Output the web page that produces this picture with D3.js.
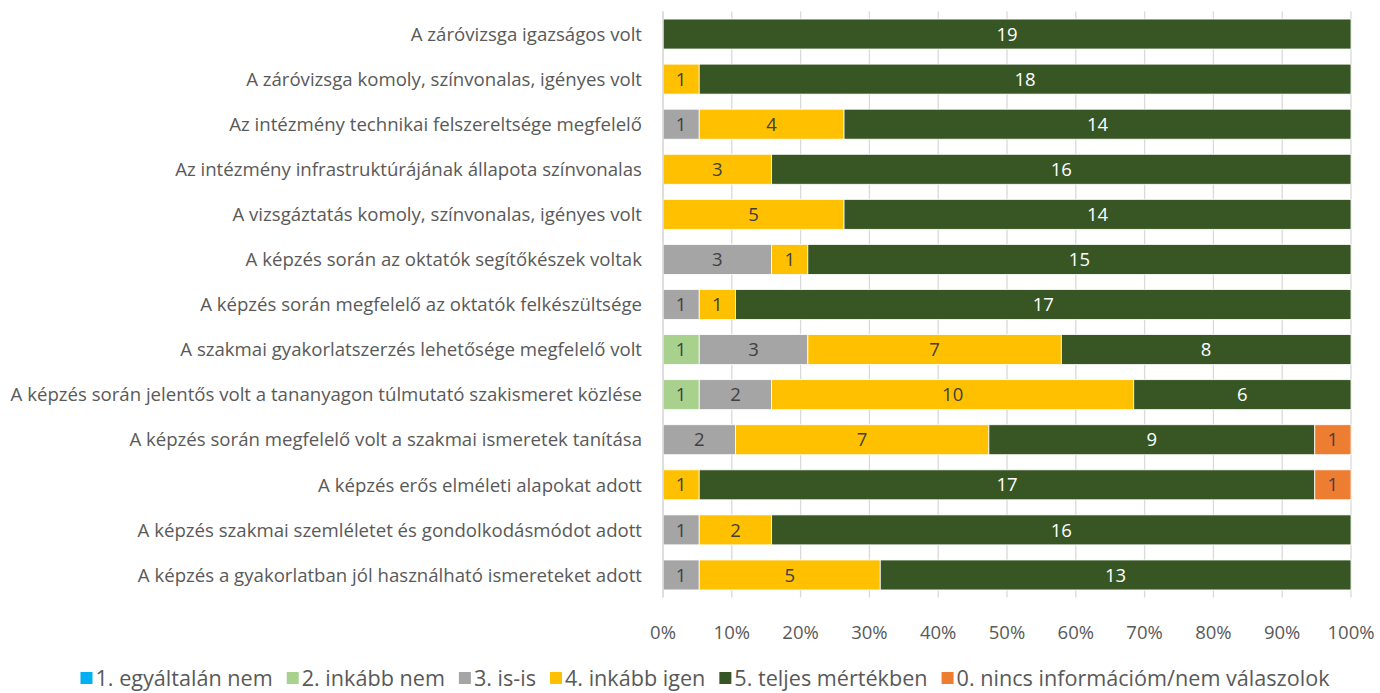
<!DOCTYPE html>
<html>
<head>
<meta charset="utf-8">
<script src="https://cdn.jsdelivr.net/npm/d3@7"></script>
<style>
  body { margin: 0; background: #fff; }
  svg text { font-family: "Open Sans", "Noto Sans", sans-serif; }
</style>
</head>
<body>
<svg id="chart" width="1380" height="693"></svg>
<script>
// categories, top to bottom
const categories = [
  "A záróvizsga igazságos volt",
  "A záróvizsga komoly, színvonalas, igényes volt",
  "Az intézmény technikai felszereltsége megfelelő",
  "Az intézmény infrastruktúrájának állapota színvonalas",
  "A vizsgáztatás komoly, színvonalas, igényes volt",
  "A képzés során az oktatók segítőkészek voltak",
  "A képzés során megfelelő az oktatók felkészültsége",
  "A szakmai gyakorlatszerzés lehetősége megfelelő volt",
  "A képzés során jelentős volt a tananyagon túlmutató szakismeret közlése",
  "A képzés során megfelelő volt a szakmai ismeretek tanítása",
  "A képzés erős elméleti alapokat adott",
  "A képzés szakmai szemléletet és gondolkodásmódot adott",
  "A képzés a gyakorlatban jól használható ismereteket adott"
];

const seriesNames = [
  "1. egyáltalán nem",
  "2. inkább nem",
  "3. is-is",
  "4. inkább igen",
  "5. teljes mértékben",
  "0. nincs információm/nem válaszolok"
];
const seriesColors = ["#00B0F0", "#A9D18E", "#A5A5A5", "#FFC000", "#375623", "#ED7D31"];

// counts per series, same order as categories
const s1 = [0, 0, 0, 0, 0, 0, 0, 0, 0, 0, 0, 0, 0];
const s2 = [0, 0, 0, 0, 0, 0, 0, 1, 1, 0, 0, 0, 0];
const s3 = [0, 0, 1, 0, 0, 3, 1, 3, 2, 2, 0, 1, 1];
const s4 = [0, 1, 4, 3, 5, 1, 1, 7, 10, 7, 1, 2, 5];
const s5 = [19, 18, 14, 16, 14, 15, 17, 8, 6, 9, 17, 16, 13];
const s0 = [0, 0, 0, 0, 0, 0, 0, 0, 0, 1, 1, 0, 0];
const seriesValues = [s1, s2, s3, s4, s5, s0];

const tickValues = [0, 0.1, 0.2, 0.3, 0.4, 0.5, 0.6, 0.7, 0.8, 0.9, 1];

const svg = d3.select('#chart');
const plotLeft = 663, plotRight = 1351, plotTop = 11.5, plotBottom = 597.5;
const textColor = '#595959';

const x = d3.scaleLinear().domain([0, 1]).range([plotLeft, plotRight]);
const y = d3.scaleBand().domain(categories).range([plotTop, plotBottom]).paddingInner(0.335).paddingOuter(0.1675);

// build rows with cumulative shares
const rows = categories.map((c, i) => {
  const total = d3.sum(seriesValues, s => s[i]);
  let acc = 0;
  const segs = seriesValues.map((s, k) => {
    const seg = {cat: c, k: k, v: s[i], x0: acc / total, x1: (acc + s[i]) / total};
    acc += s[i];
    return seg;
  }).filter(d => d.v > 0);
  return {cat: c, segs: segs};
});

// gridlines
svg.append('g').selectAll('line').data(tickValues).join('line')
  .attr('x1', d => x(d)).attr('x2', d => x(d))
  .attr('y1', plotTop).attr('y2', plotBottom)
  .attr('stroke', '#d9d9d9').attr('stroke-width', 1.3);

// bars
const segs = rows.flatMap(r => r.segs);
svg.append('g').selectAll('rect').data(segs).join('rect')
  .attr('x', d => x(d.x0))
  .attr('y', d => y(d.cat))
  .attr('width', d => x(d.x1) - x(d.x0))
  .attr('height', y.bandwidth())
  .attr('fill', d => seriesColors[d.k])
  .attr('stroke', '#fff').attr('stroke-width', 0.8);

// value labels
svg.append('g').selectAll('text').data(segs).join('text')
  .attr('x', d => x((d.x0 + d.x1) / 2))
  .attr('y', d => y(d.cat) + y.bandwidth() / 2)
  .attr('dy', '0.36em')
  .attr('text-anchor', 'middle')
  .attr('font-size', 18.5)
  .attr('fill', d => d.k === 4 ? '#ffffff' : '#404040')
  .text(d => d.v);

// category axis line
svg.append('line').attr('x1', plotLeft).attr('x2', plotLeft).attr('y1', plotTop).attr('y2', plotBottom)
  .attr('stroke', '#d9d9d9').attr('stroke-width', 1.3);

// category labels, sized so the longest one fits the space Excel gave it
const catLabels = svg.append('g').selectAll('text').data(categories).join('text')
  .attr('x', 642)
  .attr('y', d => y(d) + y.bandwidth() / 2)
  .attr('dy', '0.36em')
  .attr('text-anchor', 'end')
  .attr('font-size', 17)
  .attr('fill', textColor)
  .text(d => d);
const longest = d3.max(catLabels.nodes(), n => n.getComputedTextLength());
catLabels.attr('font-size', 17 * 632 / longest);

// x tick labels
svg.append('g').selectAll('text').data(tickValues).join('text')
  .attr('x', d => x(d))
  .attr('y', 632)
  .attr('dy', '0.36em')
  .attr('text-anchor', 'middle')
  .attr('font-size', 18.5)
  .attr('fill', textColor)
  .text(d3.format('.0%'));

// legend
const legend = svg.append('g');
function layoutLegend(fs) {
  legend.selectAll('*').remove();
  let lx = 0;
  seriesNames.forEach((name, k) => {
    const g = legend.append('g').attr('transform', `translate(${lx},0)`);
    g.append('rect').attr('x', 0).attr('y', -6).attr('width', 12).attr('height', 12).attr('fill', seriesColors[k]);
    const t = g.append('text').attr('x', 15).attr('y', 0).attr('dy', '0.36em')
      .attr('font-size', fs).attr('fill', textColor).text(name);
    lx += 15 + t.node().getComputedTextLength() + 14;
  });
  return lx - 14;
}
let lw = layoutLegend(17);
const textPart = lw - 6 * 15 - 5 * 14;
lw = layoutLegend(17 * (1250 - 6 * 15 - 5 * 14) / textPart);
legend.attr('transform', `translate(${705 - lw / 2},678)`);
</script>
</body>
</html>
